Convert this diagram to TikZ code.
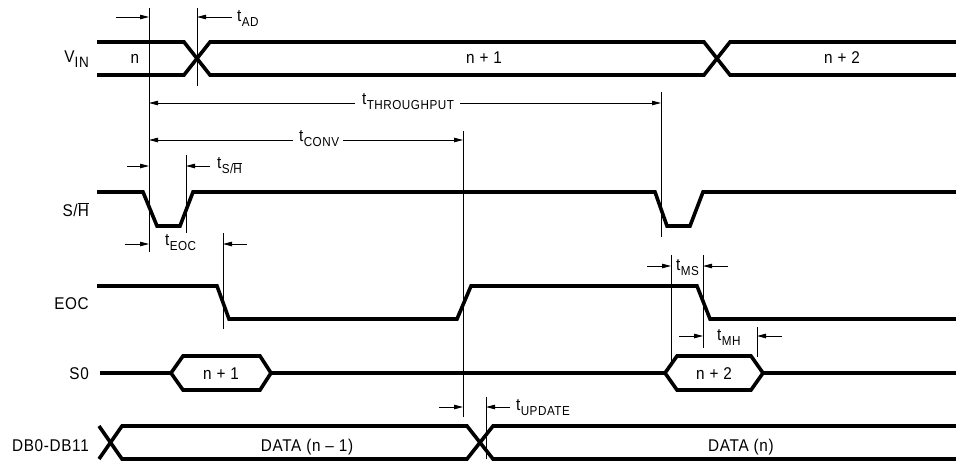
\documentclass[tikz,border=0pt]{standalone}
\usepackage{fontspec}
\setmainfont{Liberation Sans}[FakeStretch=0.9,LetterSpace=4]
\usetikzlibrary{arrows.meta}
\newcommand\bigf{\fontsize{17}{17}\selectfont}
\newcommand\smf{\fontsize{13}{13}\selectfont}
\newcommand\tl[1]{{\bigf t\kern0.3pt\raisebox{-5.5pt}{\smf #1}}}
\newcommand\shbar{S/$\overline{\mbox{H}}$}
\begin{document}
\begin{tikzpicture}[x=1pt,y=-1pt,
  sig/.style={line width=3.6pt,line join=miter},
  thinl/.style={line width=0.9pt},
  arr/.style={line width=0.9pt,-{Triangle[length=9pt,width=4.5pt]}},
  lab/.style={inner sep=0pt,font=\bigf},
  tlab/.style={inner sep=0pt,anchor=base west}]
\useasboundingbox (0,0) rectangle (956,461);
% signal names
\node[lab,anchor=base east] (vin) at (89,62) {V\raisebox{-5pt}{\fontsize{15}{15}\selectfont IN}};
\node[lab,anchor=base east] (sh) at (89,216) {\shbar};
\node[lab,anchor=base east] (eoc) at (89,309) {EOC};
\node[lab,anchor=base east] (so) at (89,379) {S0};
\node[lab,anchor=base east] (db) at (89,451) {DB0-DB11};
% V_IN
\draw[sig] (97,42) -- (184,42) -- (210,75) -- (704,75) -- (730,42) -- (956,42);
\draw[sig] (97,75) -- (184,75) -- (210,42) -- (704,42) -- (730,75) -- (956,75);
\node[lab,anchor=base] (v1) at (135,63) {n};
\node[lab,anchor=base] (v2) at (484,63) {n + 1};
\node[lab,anchor=base] (v3) at (842,63) {n + 2};
% S/H
\draw[sig] (97,192) -- (143,192) -- (157,226) -- (180,226) -- (193,192) -- (655,192) -- (667,226) -- (690,226) -- (703,192) -- (956,192);
% EOC
\draw[sig] (97,286) -- (217,286) -- (229,319) -- (457,319) -- (471,286) -- (697,286) -- (710,319) -- (956,319);
% S0
\draw[sig] (100,373) -- (171,373);
\draw[sig] (171,373) -- (183,356) -- (260,356) -- (271,373) -- (260,390) -- (183,390) -- cycle;
\draw[sig] (271,373) -- (665,373);
\draw[sig] (665,373) -- (677,356) -- (751,356) -- (763,373) -- (751,390) -- (677,390) -- cycle;
\draw[sig] (763,373) -- (956,373);
\node[lab,anchor=base] (s1) at (221,379) {n + 1};
\node[lab,anchor=base] (s2) at (714,379) {n + 2};
% DB
\draw[sig] (99,426) -- (122,459) -- (467,459) -- (493,426) -- (956,426);
\draw[sig] (99,459) -- (122,426) -- (467,426) -- (493,459) -- (956,459);
\node[lab,anchor=base] (d1) at (307,451) {DATA (n {\textendash} 1)};
\node[lab,anchor=base] (d2) at (741,451) {DATA (n)};
% reference verticals
\coordinate (a1) at (149,8);   \coordinate (a2) at (149,252);
\coordinate (b1) at (197,8);   \coordinate (b2) at (197,86);
\coordinate (c1) at (661,92);  \coordinate (c2) at (661,237);
\coordinate (e1) at (463,131); \coordinate (e2) at (463,417);
\coordinate (f1) at (186,155); \coordinate (f2) at (186,233);
\coordinate (g1) at (223,233); \coordinate (g2) at (223,329);
\coordinate (h1) at (671,255); \coordinate (h2) at (671,362);
\coordinate (i1) at (703,255); \coordinate (i2) at (703,348);
\coordinate (j1) at (757,327); \coordinate (j2) at (757,357);
\coordinate (k1) at (486,397); \coordinate (k2) at (486,459);
\foreach \p in {a,b,c,e,f,g,h,i,j,k} \draw[thinl] (\p1) -- (\p2);
% t_AD
\draw[arr] (116,17) -- (149,17);
\draw[arr] (232,17) -- (197,17);
\node[tlab] (tad) at (237,21) {\tl{AD}};
% t_THROUGHPUT
\draw[arr] (355,103) -- (149,103);
\draw[arr] (460,103) -- (661,103);
\node[tlab] (tth) at (362,104) {\tl{THROUGHPUT}};
% t_CONV
\draw[arr] (293,140) -- (149,140);
\draw[arr] (343,140) -- (463,140);
\node[tlab] (tcv) at (299,141) {\tl{CONV}};
% t_S/H
\draw[arr] (127,166) -- (149,166);
\draw[arr] (210,166) -- (186,166);
\node[tlab] (tsh) at (217,168) {\tl{\shbar}};
% t_EOC
\draw[arr] (125,244) -- (149,244);
\draw[arr] (247,244) -- (223,244);
\node[tlab] (teoc) at (165,245) {\tl{EOC}};
% t_MS
\draw[arr] (647,266) -- (671,266);
\draw[arr] (728,266) -- (703,266);
\node[tlab] (tms) at (676,270) {\tl{MS}};
% t_MH
\draw[arr] (679,336) -- (703,336);
\draw[arr] (782,336) -- (757,336);
\node[tlab] (tmh) at (717,340) {\tl{MH}};
% t_UPDATE
\draw[arr] (439,407) -- (463,407);
\draw[arr] (510,407) -- (486,407);
\node[tlab] (tup) at (516,410) {\tl{UPDATE}};
\end{tikzpicture}
\end{document}
